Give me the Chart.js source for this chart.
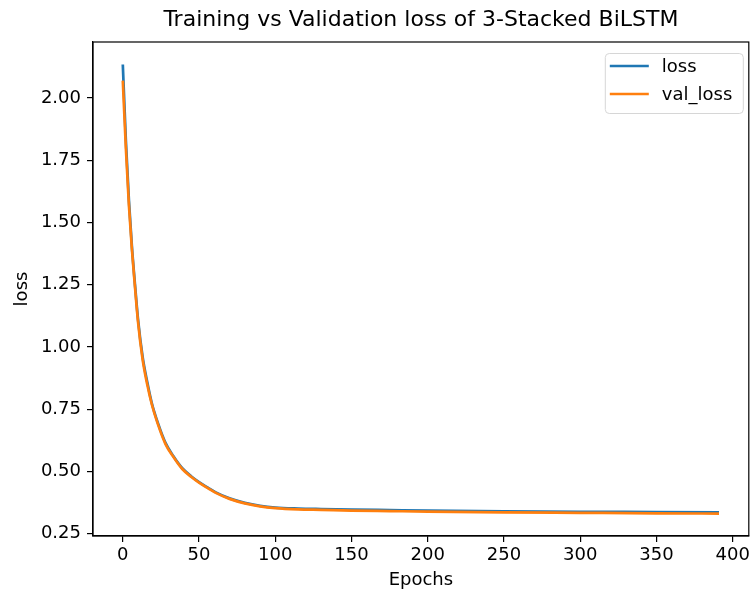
<!DOCTYPE html>
<html>
<head>
<meta charset="utf-8">
<script src="https://cdn.jsdelivr.net/npm/chart.js@4/dist/chart.umd.min.js"></script>
<style>
  html, body { margin: 0; padding: 0; background: #fff; }
  canvas { display: block; }
</style>
</head>
<body>
<canvas id="myChart" width="753" height="592"></canvas>
<script>
var epochs = [0, 2, 4, 6, 8, 10, 13, 16, 19, 23, 28, 33, 39, 45, 50, 56, 61, 70, 80, 90, 100, 115, 130, 150, 175, 200, 250, 300, 350, 391];
var lossValues = [2.135, 1.83, 1.59, 1.40, 1.25, 1.11, 0.96, 0.86, 0.775, 0.695, 0.615, 0.563, 0.513, 0.48, 0.457, 0.434, 0.416, 0.392, 0.374, 0.362, 0.355, 0.351, 0.349, 0.347, 0.345, 0.343, 0.340, 0.338, 0.337, 0.336];
var valLossValues = [2.07, 1.80, 1.57, 1.39, 1.24, 1.10, 0.95, 0.85, 0.77, 0.69, 0.61, 0.56, 0.51, 0.478, 0.455, 0.432, 0.414, 0.39, 0.372, 0.360, 0.353, 0.348, 0.346, 0.343, 0.341, 0.339, 0.336, 0.334, 0.332, 0.331];
var xTicks = [0, 50, 100, 150, 200, 250, 300, 350, 400];
var yTicks = [0.25, 0.50, 0.75, 1.00, 1.25, 1.50, 1.75, 2.00];

var FONT = "'DejaVu Sans', sans-serif";

function toPoints(values) {
  return epochs.map((e, i) => ({ x: e, y: values[i] }));
}

// matplotlib style box around the axes + legend in the upper right
const framePlugin = {
  id: 'frame',
  afterDraw(chart) {
    const ctx = chart.ctx;
    const a = chart.chartArea;
    ctx.save();
    ctx.strokeStyle = '#000';
    ctx.lineWidth = 1.2;
    ctx.strokeRect(a.left, a.top, a.right - a.left, a.bottom - a.top);

    // legend
    const w = 138, h = 60;
    const bx = a.right - 6 - w, by = a.top + 11;
    ctx.beginPath();
    ctx.roundRect(bx + 0.5, by + 0.5, w, h, 4);
    ctx.fillStyle = 'rgba(255,255,255,0.8)';
    ctx.fill();
    ctx.strokeStyle = '#d6d6d6';
    ctx.lineWidth = 1;
    ctx.stroke();

    ctx.font = '18px ' + FONT;
    ctx.textBaseline = 'middle';
    ctx.textAlign = 'left';
    chart.data.datasets.forEach((ds, i) => {
      const y = by + 13 + i * 28;
      ctx.beginPath();
      ctx.moveTo(bx + 5, y);
      ctx.lineTo(bx + 44, y);
      ctx.strokeStyle = ds.borderColor;
      ctx.lineWidth = 2.7;
      ctx.stroke();
      ctx.fillStyle = '#000';
      ctx.fillText(ds.label, bx + 57, y + 1);
    });
    ctx.restore();
  }
};

var ctx = document.getElementById('myChart').getContext('2d');

const config = {
  type: 'line',
  data: {
    datasets: [
      {
        label: 'loss',
        data: toPoints(lossValues),
        borderColor: '#1f77b4',
        borderWidth: 2.7,
        pointRadius: 0,
        fill: false,
        order: 2,
        cubicInterpolationMode: 'monotone'
      },
      {
        label: 'val_loss',
        data: toPoints(valLossValues),
        borderColor: '#ff7f0e',
        borderWidth: 2.7,
        pointRadius: 0,
        fill: false,
        order: 1,
        cubicInterpolationMode: 'monotone'
      }
    ]
  },
  options: {
    responsive: false,
    animation: false,
    layout: { padding: { left: 0, right: 2, top: 0, bottom: 0 } },
    plugins: {
      legend: { display: false },
      tooltip: { enabled: false },
      title: {
        display: true,
        fullSize: false,
        text: 'Training vs Validation loss of 3-Stacked BiLSTM',
        color: '#000',
        font: { family: FONT, size: 22, weight: 'normal' },
        padding: { top: 7, bottom: 8.6 }
      }
    },
    scales: {
      x: {
        type: 'linear',
        min: -19.55,
        max: 410.55,
        afterBuildTicks(axis) { axis.ticks = xTicks.map(v => ({ value: v })); },
        afterFit(axis) { axis.height = 56; },
        grid: { display: true, drawOnChartArea: false, drawTicks: true, tickLength: 6, color: '#000', lineWidth: 1.2 },
        border: { display: true, color: '#000', width: 1.2 },
        ticks: {
          color: '#000',
          padding: 3,
          maxRotation: 0,
          font: { family: FONT, size: 18 },
          callback: v => String(v)
        },
        title: {
          display: true,
          text: 'Epochs',
          color: '#000',
          font: { family: FONT, size: 18 },
          padding: { top: 1, bottom: 1 }
        }
      },
      y: {
        min: 0.2408,
        max: 2.2252,
        afterBuildTicks(axis) { axis.ticks = yTicks.map(v => ({ value: v })); },
        afterFit(axis) { axis.width = 93; },
        grid: { display: true, drawOnChartArea: false, drawTicks: true, tickLength: 6, color: '#000', lineWidth: 1.2 },
        border: { display: true, color: '#000', width: 1.2 },
        ticks: {
          color: '#000',
          padding: 6,
          font: { family: FONT, size: 18 },
          callback: v => Number(v).toFixed(2)
        },
        title: {
          display: true,
          text: 'loss',
          color: '#000',
          font: { family: FONT, size: 18 },
          padding: { top: 12, bottom: 0 }
        }
      }
    }
  },
  plugins: [framePlugin]
};

const chart = new Chart(ctx, config);
</script>
</body>
</html>
